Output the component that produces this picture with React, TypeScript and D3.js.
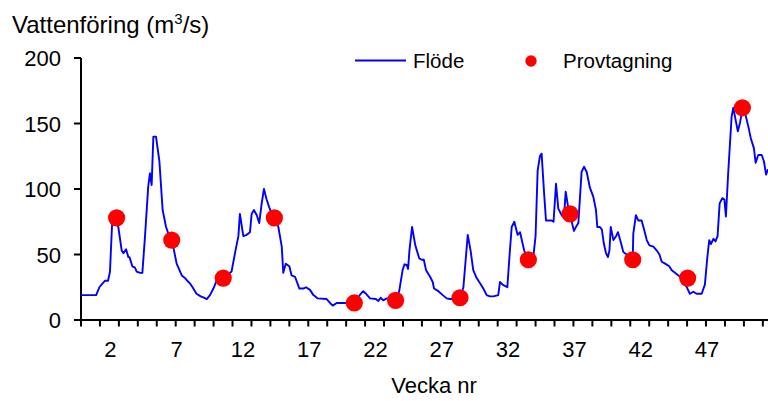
import React, { useRef, useEffect } from "react";
import * as d3 from "d3";

const fontFamily = "'Liberation Sans', Arial, Helvetica, sans-serif";
const lineColor = "#0000FF";
const dotColor = "#FF0000";

// dagligt flöde, läst av ur bilden (dag på året, m3/s)
const flowDays = [
  0, 8, 9.7, 11.4, 12.7, 14.3, 15.3, 16.5, 17.5, 19.7, 21.5, 22.4, 23.8, 25, 25.6, 27.1, 28.5, 29.4, 31.2, 32.4,
  33.8, 35.5, 36.4, 37.3, 38.2, 39.6, 41.4, 43.1, 44.9, 46.1, 48.7, 50.5, 53.2, 54.9, 56.1, 57.5, 58.9, 61, 63.2, 64.9,
  66.4, 68.1, 69.9, 71.6, 73.4, 75.1, 77, 79.5, 81.3, 83.1, 83.9, 85.7, 87.5, 89.2, 90.1, 91.3, 92.8, 94.1, 95.4, 96.6,
  98, 99.4, 101, 102.1, 104.2, 106, 106.8, 108.1, 110, 111.2, 113, 115.3, 117.4, 118.8, 120.9, 122.7, 125, 129.7, 131.5, 132.9,
  135, 139.4, 144.3, 147.7, 149, 150.5, 152.6, 155.7, 157, 158.2, 159.6, 161.4, 164, 166.1, 168, 169.8, 170.8, 172, 172.7, 173.4,
  174.8, 176.5, 178.6, 179.9, 181, 182.2, 184.3, 185.7, 186.4, 188.7, 191, 193.1, 194.8, 197, 200.1, 201.9, 204.2, 205.7, 207.1, 208.9,
  210.7, 212.4, 214.2, 215.9, 217.7, 220.3, 221.2, 222.6, 225.1, 226.1, 227.4, 228.8, 230.5, 231.8, 234, 236.2, 238.8, 240, 241.1, 242.3,
  243.2, 244.5, 245.5, 246.7, 248.5, 249.5, 250.8, 252, 253.8, 255, 255.9, 257, 258.2, 259.6, 260.3, 261.7, 262.6, 264.3, 265.6, 267,
  268.7, 270.5, 271.9, 272.6, 274, 275, 276.1, 277.2, 278.2, 279, 279.7, 281.1, 282.5, 283.5, 284.9, 286.3, 288, 290, 291.3, 291.6,
  293, 294.2, 296, 297.3, 298.7, 300.1, 302.2, 304, 305.4, 306.6, 308.4, 310.6, 311.9, 313.6, 316.3, 318, 319.5, 321.5, 323.3, 325,
  327.7, 329.4, 330.7, 331.7, 332.6, 333.9, 335, 336.1, 337.2, 338.6, 339.7, 340.5, 341.7, 343.5, 344.4, 345.6, 346.8, 348, 349.2, 350.6,
  352.3, 353.6, 355.3, 356.2, 357.6, 359.4, 360.6, 361.7, 362.7
];
const flowValues = [
  19, 19, 25, 28, 30, 30, 37, 76, 79, 71, 53, 51, 54, 48, 48, 41, 40, 37, 36, 36,
  64, 102, 112, 103, 140, 140, 121, 84, 71, 66, 56, 43, 34, 32, 30, 28, 25, 20, 18, 17,
  16, 19, 24, 30, 33, 33, 34, 37, 51, 64, 81, 64, 65, 67, 81, 84, 80, 74, 89, 100,
  92, 86, 80, 78, 71, 56, 36, 43, 41, 34, 33, 24, 24, 25, 23, 19, 16.5, 16, 13, 11,
  13, 13, 13, 20, 22, 20, 16.5, 16, 14.5, 17, 15, 16.5, 15.5, 15, 22, 38, 42.5, 42, 39, 53,
  71, 57, 47, 46, 46, 38, 33, 29, 24, 22, 19, 16.5, 16, 16, 17, 25, 65, 53, 38, 32,
  28, 24, 19, 18, 18, 19, 29, 27, 25, 46, 71, 75, 65, 67, 53, 46, 48, 64, 114, 125,
  127, 97, 76, 76, 76, 75, 104, 85, 80, 78, 98, 88, 81, 72, 68, 72, 74, 113, 117, 113,
  101, 94, 84, 71, 71, 69, 58, 51, 48, 53, 71, 61, 64, 67, 60, 52, 50, 47, 46, 66,
  80, 76, 76, 69, 61, 57, 56, 53, 50, 44.5, 43, 41, 38, 36, 33, 30, 26, 20, 21.6, 20,
  20, 27, 48, 61, 58, 62, 60, 64, 89, 93, 92, 79, 112, 155, 162, 153, 144, 151, 161, 158,
  148, 139, 131, 120, 126, 126, 121, 111, 115
];

// provtagningstillfällen
const sampleDays = [18.8, 47.9, 75.1, 102.1, 144.3, 166.1, 200.1, 236.2, 258.2, 291.3, 320.3, 349.2];
const sampleValues = [78, 61, 32, 78, 13, 15, 17, 46, 81, 46, 32, 162];

const weekLabels = [2, 7, 12, 17, 22, 27, 32, 37, 42, 47];
const yTicks = [0, 50, 100, 150, 200];

export default function App() {
  const ref = useRef<SVGSVGElement>(null);

  useEffect(() => {
    const width = 768;
    const height = 401;
    const left = 81;
    const pxPerDay = 1.894;

    const svg = d3.select(ref.current);
    svg.selectAll("*").remove();
    svg.attr("width", width).attr("height", height).style("background", "#fff").style("font-family", fontFamily);

    const x = d3.scaleLinear().domain([0, 365]).range([left, left + 365 * pxPerDay]);
    const y = d3.scaleLinear().domain([0, 200]).range([320, 58]);

    // titel
    const title = svg.append("text").attr("x", 12).attr("y", 33).attr("font-size", 24).attr("fill", "#000");
    title.append("tspan").text("Vattenföring (m");
    title.append("tspan").attr("font-size", 15).attr("dy", -9).text("3");
    title.append("tspan").attr("dy", 9).text("/s)");

    // y-axel
    svg.append("line").attr("x1", left).attr("x2", left).attr("y1", y(200)).attr("y2", y(0) + 6)
      .attr("stroke", "#000").attr("stroke-width", 2);
    svg.selectAll("line.ytick").data(yTicks).join("line").attr("class", "ytick")
      .attr("x1", left - 7).attr("x2", left).attr("y1", d => y(d)).attr("y2", d => y(d))
      .attr("stroke", "#000").attr("stroke-width", 2);
    svg.selectAll("text.ylab").data(yTicks).join("text").attr("class", "ylab")
      .attr("x", 61).attr("y", d => y(d) + 8).attr("text-anchor", "end")
      .attr("font-size", 22).attr("fill", "#000").text(d => d);

    // x-axel
    svg.append("line").attr("x1", left).attr("x2", width).attr("y1", y(0)).attr("y2", y(0))
      .attr("stroke", "#000").attr("stroke-width", 2);
    svg.selectAll("line.xtick").data(d3.range(0, 370, 10)).join("line").attr("class", "xtick")
      .attr("x1", d => x(d)).attr("x2", d => x(d)).attr("y1", y(0)).attr("y2", y(0) + 6.5)
      .attr("stroke", "#000").attr("stroke-width", 2);
    svg.selectAll("text.xlab").data(weekLabels).join("text").attr("class", "xlab")
      .attr("x", d => x(d * 7 + 1.5)).attr("y", 357).attr("text-anchor", "middle")
      .attr("font-size", 22).attr("fill", "#000").text(d => d);
    svg.append("text").attr("x", 434).attr("y", 393).attr("text-anchor", "middle")
      .attr("font-size", 22).attr("fill", "#000").text("Vecka nr");

    // flöde
    const pts: [number, number][] = flowDays.map((d, i) => [d, flowValues[i]]);
    const line = d3.line<[number, number]>().x(d => x(d[0])).y(d => y(d[1]));
    svg.append("path").datum(pts).attr("d", line).attr("fill", "none")
      .attr("stroke", lineColor).attr("stroke-width", 1.9).attr("stroke-linejoin", "round");

    // provtagning
    svg.selectAll("circle.sample").data(sampleDays).join("circle").attr("class", "sample")
      .attr("cx", d => x(d)).attr("cy", (d, i) => y(sampleValues[i])).attr("r", 8.6).attr("fill", dotColor);

    // legend
    svg.append("line").attr("x1", 355).attr("x2", 406).attr("y1", 60.5).attr("y2", 60.5)
      .attr("stroke", lineColor).attr("stroke-width", 2);
    svg.append("text").attr("x", 413).attr("y", 68).attr("font-size", 20.5).attr("fill", "#000").text("Flöde");
    svg.append("circle").attr("cx", 531).attr("cy", 61).attr("r", 5.7).attr("fill", dotColor);
    svg.append("text").attr("x", 563).attr("y", 68).attr("font-size", 20.5).attr("fill", "#000").text("Provtagning");
  }, []);

  return (
    <svg ref={ref} width={768} height={401} style={{ position: "fixed", left: 0, top: 0, display: "block" }} />
  );
}
